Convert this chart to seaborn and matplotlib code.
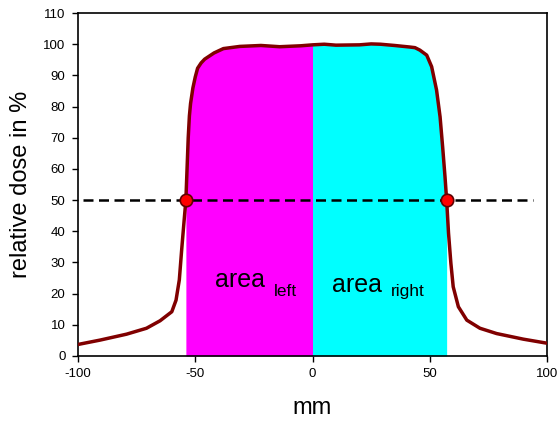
import numpy as np
import pandas as pd
import seaborn as sns
import matplotlib.pyplot as plt

# beam profile
pos_mm = [-100, -90.6, -79.3, -70.8, -65, -60, -58.2, -56.8, -55.8, -54.8, -54, -53.5, -53, -52.5, -52,
          -51, -50, -49, -47.5, -46, -42, -38, -31, -22, -14, -5, 0, 5, 10, 20, 25, 29, 35, 41.5, 43.7, 45.8, 48.7,
          50.8, 52.9, 54.4, 55.5, 56.5, 57.2, 58, 59, 60, 62.2, 65.8, 71.4, 78.5, 89.9, 100]
dose = [3.7, 5.1, 7.0, 8.9, 11.3, 14.2, 17.9, 24.4, 34.0, 43.0, 50.0, 60.0, 70.0, 77.0, 81.0,
        86.0, 89.5, 92.3, 94.0, 95.2, 97.2, 98.6, 99.3, 99.6, 99.2, 99.5, 99.8, 100.0, 99.7, 99.8, 100.1, 100.0, 99.6, 99.1, 98.9, 98.1, 96.5,
        92.8, 85.3, 76.7, 67.0, 57.5, 50.0, 39.4, 29.8, 22.2, 15.8, 11.5, 8.9, 7.2, 5.4, 4.1]

half_max = 50
edge_left = -54
edge_right = 57.2

df = pd.DataFrame({'mm': pos_mm, 'dose': dose})

sns.set_style('ticks')
plt.rcParams['font.family'] = ['Liberation Sans', 'DejaVu Sans']
plt.rcParams['axes.unicode_minus'] = False

fig = plt.figure(figsize=(5.58, 4.21), dpi=100)
ax = fig.add_axes([0.1398, 0.1544, 0.8405, 0.8146])

# shaded areas left and right of the centre
x = np.array(pos_mm)
y = np.array(dose)
in_left = (x >= edge_left) & (x <= 0)
in_right = (x >= 0) & (x <= edge_right)
ax.fill_between(x[in_left], 0, y[in_left], color='#ff00ff', lw=0, zorder=1)
ax.fill_between(x[in_right], 0, y[in_right], color='#00ffff', lw=0, zorder=1)

ax.plot([-98, 94], [half_max, half_max], ls=(0, (4, 2.2)), color='black', lw=1.8, zorder=3)
sns.lineplot(data=df, x='mm', y='dose', color='#800000', lw=2.5, ax=ax, zorder=4, sort=False)
sns.scatterplot(x=[edge_left, edge_right], y=[half_max, half_max], color='red', edgecolor='#600000',
                s=80, linewidth=1.2, ax=ax, zorder=5)

ax.text(-41.6, 22, 'area', fontsize=18, color='black')
ax.text(-16.4, 19.3, 'left', fontsize=12.5, color='black')
ax.text(8.3, 20.5, 'area', fontsize=18, color='black')
ax.text(33.5, 19.3, 'right', fontsize=12.5, color='black')

ax.set_xlim(-100, 100)
ax.set_ylim(0, 110)
ax.set_xticks([-100, -50, 0, 50, 100])
ax.set_yticks(range(0, 111, 10))
ax.tick_params(labelsize=9.5, length=4, width=1, color='black', labelcolor='black', pad=5)
for s in ax.spines.values():
    s.set_color('black')
    s.set_linewidth(1.2)
ax.set_xlabel('mm', fontsize=17, labelpad=12, color='black')
ax.set_ylabel('relative dose in %', fontsize=17, labelpad=8, color='black')

fig.savefig('out.png', dpi=100)
